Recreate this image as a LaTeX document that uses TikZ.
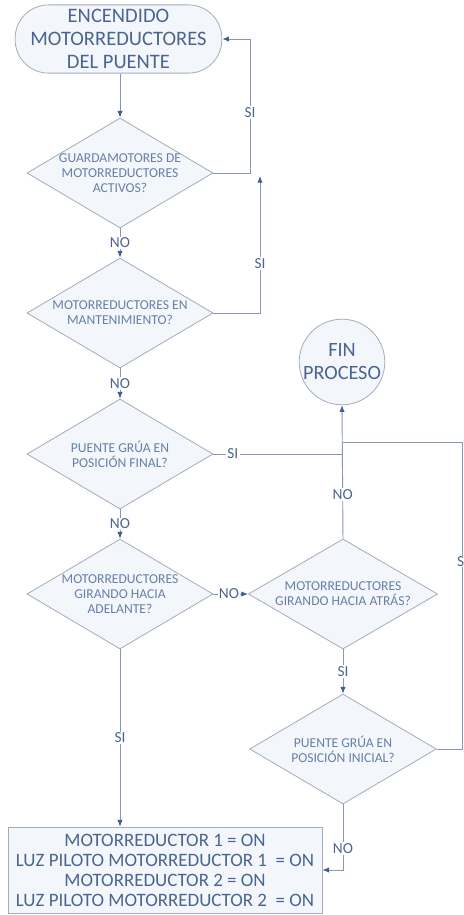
\documentclass[tikz,border=0pt]{standalone}
\usepackage{fontspec}
\setmainfont{Carlito}
\usetikzlibrary{shapes.geometric,arrows.meta}

\definecolor{ink}{HTML}{4A6591}
\definecolor{softink}{HTML}{6780A9}
\definecolor{wire}{HTML}{8798B5}
\definecolor{tipblue}{HTML}{3E5D95}
\definecolor{outline}{HTML}{A3ACBD}
\definecolor{paper}{HTML}{F3F6FA}

\tikzset{
  terminal/.style={draw=outline, fill=paper, rounded corners=25pt, line width=0.6pt,
    minimum width=155pt, minimum height=50pt, align=center, text=ink,
    font=\fontsize{15.4}{17.2}\selectfont},
  decision/.style={draw=outline, fill=paper, diamond, line width=0.6pt, inner sep=0pt,
    minimum width=139.5pt, minimum height=82.5pt},
  qtext/.style={align=center, text=softink, font=\fontsize{10.2}{11.2}\selectfont},
  endcircle/.style={draw=outline, fill=paper, circle, line width=0.6pt,
    minimum size=61.5pt, inner sep=0pt, align=center, text=ink,
    font=\fontsize{15.2}{17.2}\selectfont},
  actionbox/.style={draw=outline, fill=paper, line width=0.6pt,
    minimum width=235.5pt, minimum height=64.5pt, align=center, text=ink,
    font=\fontsize{14.2}{15}\selectfont},
  flow/.style={draw=wire, line width=0.7pt},
  arr/.style={flow, -{Latex[length=5pt,width=4pt,color=tipblue]}},
  lbl/.style={fill=white, inner sep=1pt, text=ink, font=\fontsize{11.5}{12}\selectfont}
}

\begin{document}
\begin{tikzpicture}[x=0.75pt,y=-0.75pt]
  \fill[white] (0,0) rectangle (464,915);
  \useasboundingbox (0,0) rectangle (464,915);

  % main column
  \node[terminal] (start) at (118.5,39) {ENCENDIDO\\MOTORREDUCTORES\\DEL PUENTE};
  \node[decision] (d1) at (120,173) {};
  \node[qtext] (t1) at (d1.center) {GUARDAMOTORES DE\\MOTORREDUCTORES\\ACTIVOS?};
  \node[decision] (d2) at (120,313) {};
  \node[qtext] (t2) at (d2.center) {MOTORREDUCTORES EN\\MANTENIMIENTO?};
  \node[decision] (d3) at (120,454) {};
  \node[qtext] (t3) at (d3.center) {PUENTE GRÚA EN\\POSICIÓN FINAL?};
  \node[decision] (d4) at (120,594) {};
  \node[qtext] (t4) at (d4.center) {MOTORREDUCTORES\\GIRANDO HACIA\\ADELANTE?};

  % right column
  \node[endcircle] (fin) at (342,362) {FIN\\PROCESO};
  \node[decision, minimum width=142pt] (d5) at (343,594) {};
  \node[qtext] (t5) at (d5.center) {MOTORREDUCTORES\\GIRANDO HACIA ATRÁS?};
  \node[decision, minimum width=140pt] (d6) at (343,749) {};
  \node[qtext] (t6) at (d6.center) {PUENTE GRÚA EN\\POSICIÓN INICIAL?};

  % actions
  \node[actionbox] (act) at (165,870) {MOTORREDUCTOR 1 = ON\\LUZ PILOTO MOTORREDUCTOR 1\ \ = ON\\MOTORREDUCTOR 2 = ON\\LUZ PILOTO MOTORREDUCTOR 2\ \ = ON};

  % loop-back corners
  \coordinate (c1) at (250,173);
  \coordinate (c2) at (260,313);
  \coordinate (c2end) at (260,176);
  \coordinate (j1) at (343,454);
  \coordinate (j2) at (343,442);
  \coordinate (c6) at (462,749);

  % connectors
  \draw[arr] (start.south -| d1.north) -- (d1.north);
  \draw[arr] (d1.east) -- (c1) -- node[lbl, pos=0.45] {SI} (c1 |- start.east) -- (start.east);
  \draw[arr] (d1.south) -- node[lbl] {NO} (d2.north);
  \draw[arr] (d2.east) -- (c2) -- node[lbl, pos=0.36] {SI} (c2end);
  \draw[arr] (d2.south) -- node[lbl] {NO} (d3.north);
  \draw[flow] (d3.east) -- node[lbl, pos=0.15] {SI} (j1);
  \draw[arr] (d3.south) -- node[lbl] {NO} (d4.north);
  \draw[arr] (d4.east) -- node[lbl, pos=0.45] {NO} (d5.west);
  \draw[arr] (d5.north) -- node[lbl, pos=0.33] {NO} (fin.south);
  \draw[arr] (d5.south) -- node[lbl] {SI} (d6.north);
  \draw[flow] (d6.east) -- (c6) -- node[lbl, inner sep=0.5pt, anchor=east, xshift=2.5pt, pos=0.61] {S} (c6 |- j2) -- (j2);
  \draw[arr] (d4.south) -- node[lbl] {SI} (d4.south |- act.north);
  \draw[arr] (d6.south) -- node[lbl, pos=0.67] {NO} (d6.south |- act.east) -- (act.east);
\end{tikzpicture}
\end{document}
